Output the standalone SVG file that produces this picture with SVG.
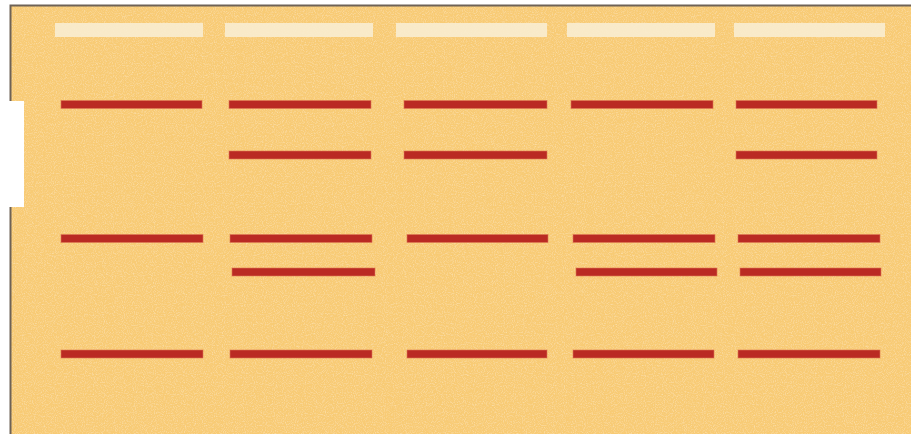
<svg xmlns="http://www.w3.org/2000/svg" width="911" height="434" viewBox="0 0 911 434">
  <defs>
    <filter id="grain" x="0" y="0" width="100%" height="100%">
      <feTurbulence type="fractalNoise" baseFrequency="0.9" numOctaves="2" seed="3" result="n"/>
      <feColorMatrix in="n" type="matrix" values="0 0 0 0 0.97  0 0 0 0 0.74  0 0 0 0 0.40  0 0 0 2 -0.9" result="c"/>
      <feComposite in="c" in2="SourceGraphic" operator="in" result="m"/>
      <feMerge><feMergeNode in="SourceGraphic"/><feMergeNode in="m"/></feMerge>
    </filter>
    <filter id="soft" x="-5%" y="-50%" width="110%" height="200%">
      <feGaussianBlur stdDeviation="0.6"/>
    </filter>
  </defs>
  <style>
    .gel { fill: #F8CB74; }
    .well { fill: #F8EDD2; opacity: 0.9; }
    .band { fill: #BA2A23; stroke: #E07A55; stroke-width: 1; stroke-opacity: 0.6; }
  </style>
  <rect x="0" y="0" width="911" height="434" fill="#FFFFFF"/>
  <g id="gel">
    <rect class="gel" x="11" y="6" width="900" height="428" filter="url(#grain)"/>
    <path d="M10.5 434 V5.5 H911" fill="none" stroke="#6E6256" stroke-width="2"/>
  </g>
  <g id="wells" filter="url(#soft)">
    <rect class="well" x="55" y="23" width="148" height="14"/>
    <rect class="well" x="225" y="23" width="148" height="14"/>
    <rect class="well" x="396" y="23" width="151" height="14"/>
    <rect class="well" x="567" y="23" width="148" height="14"/>
    <rect class="well" x="734" y="23" width="151" height="14"/>
  </g>
  <g id="lane1">
    <rect class="band" x="61" y="100.5" width="141" height="8"/>
    <rect class="band" x="61" y="234.5" width="142" height="8"/>
    <rect class="band" x="61" y="350" width="142" height="8"/>
  </g>
  <g id="lane2">
    <rect class="band" x="229" y="100.5" width="142" height="8"/>
    <rect class="band" x="229" y="151" width="142" height="8"/>
    <rect class="band" x="230" y="234.5" width="142" height="8"/>
    <rect class="band" x="232" y="268" width="143" height="8"/>
    <rect class="band" x="230" y="350" width="142" height="8"/>
  </g>
  <g id="lane3">
    <rect class="band" x="404" y="100.5" width="143" height="8"/>
    <rect class="band" x="404" y="151" width="143" height="8"/>
    <rect class="band" x="407" y="234.5" width="141" height="8"/>
    <rect class="band" x="407" y="350" width="140" height="8"/>
  </g>
  <g id="lane4">
    <rect class="band" x="571" y="100.5" width="142" height="8"/>
    <rect class="band" x="573" y="234.5" width="142" height="8"/>
    <rect class="band" x="576" y="268" width="141" height="8"/>
    <rect class="band" x="573" y="350" width="141" height="8"/>
  </g>
  <g id="lane5">
    <rect class="band" x="736" y="100.5" width="141" height="8"/>
    <rect class="band" x="736" y="151" width="141" height="8"/>
    <rect class="band" x="738" y="234.5" width="142" height="8"/>
    <rect class="band" x="740" y="268" width="141" height="8"/>
    <rect class="band" x="738" y="350" width="142" height="8"/>
  </g>
  <g id="connectors"/>
  <rect x="0" y="101" width="24" height="106" fill="#FFFFFF"/>
</svg>
